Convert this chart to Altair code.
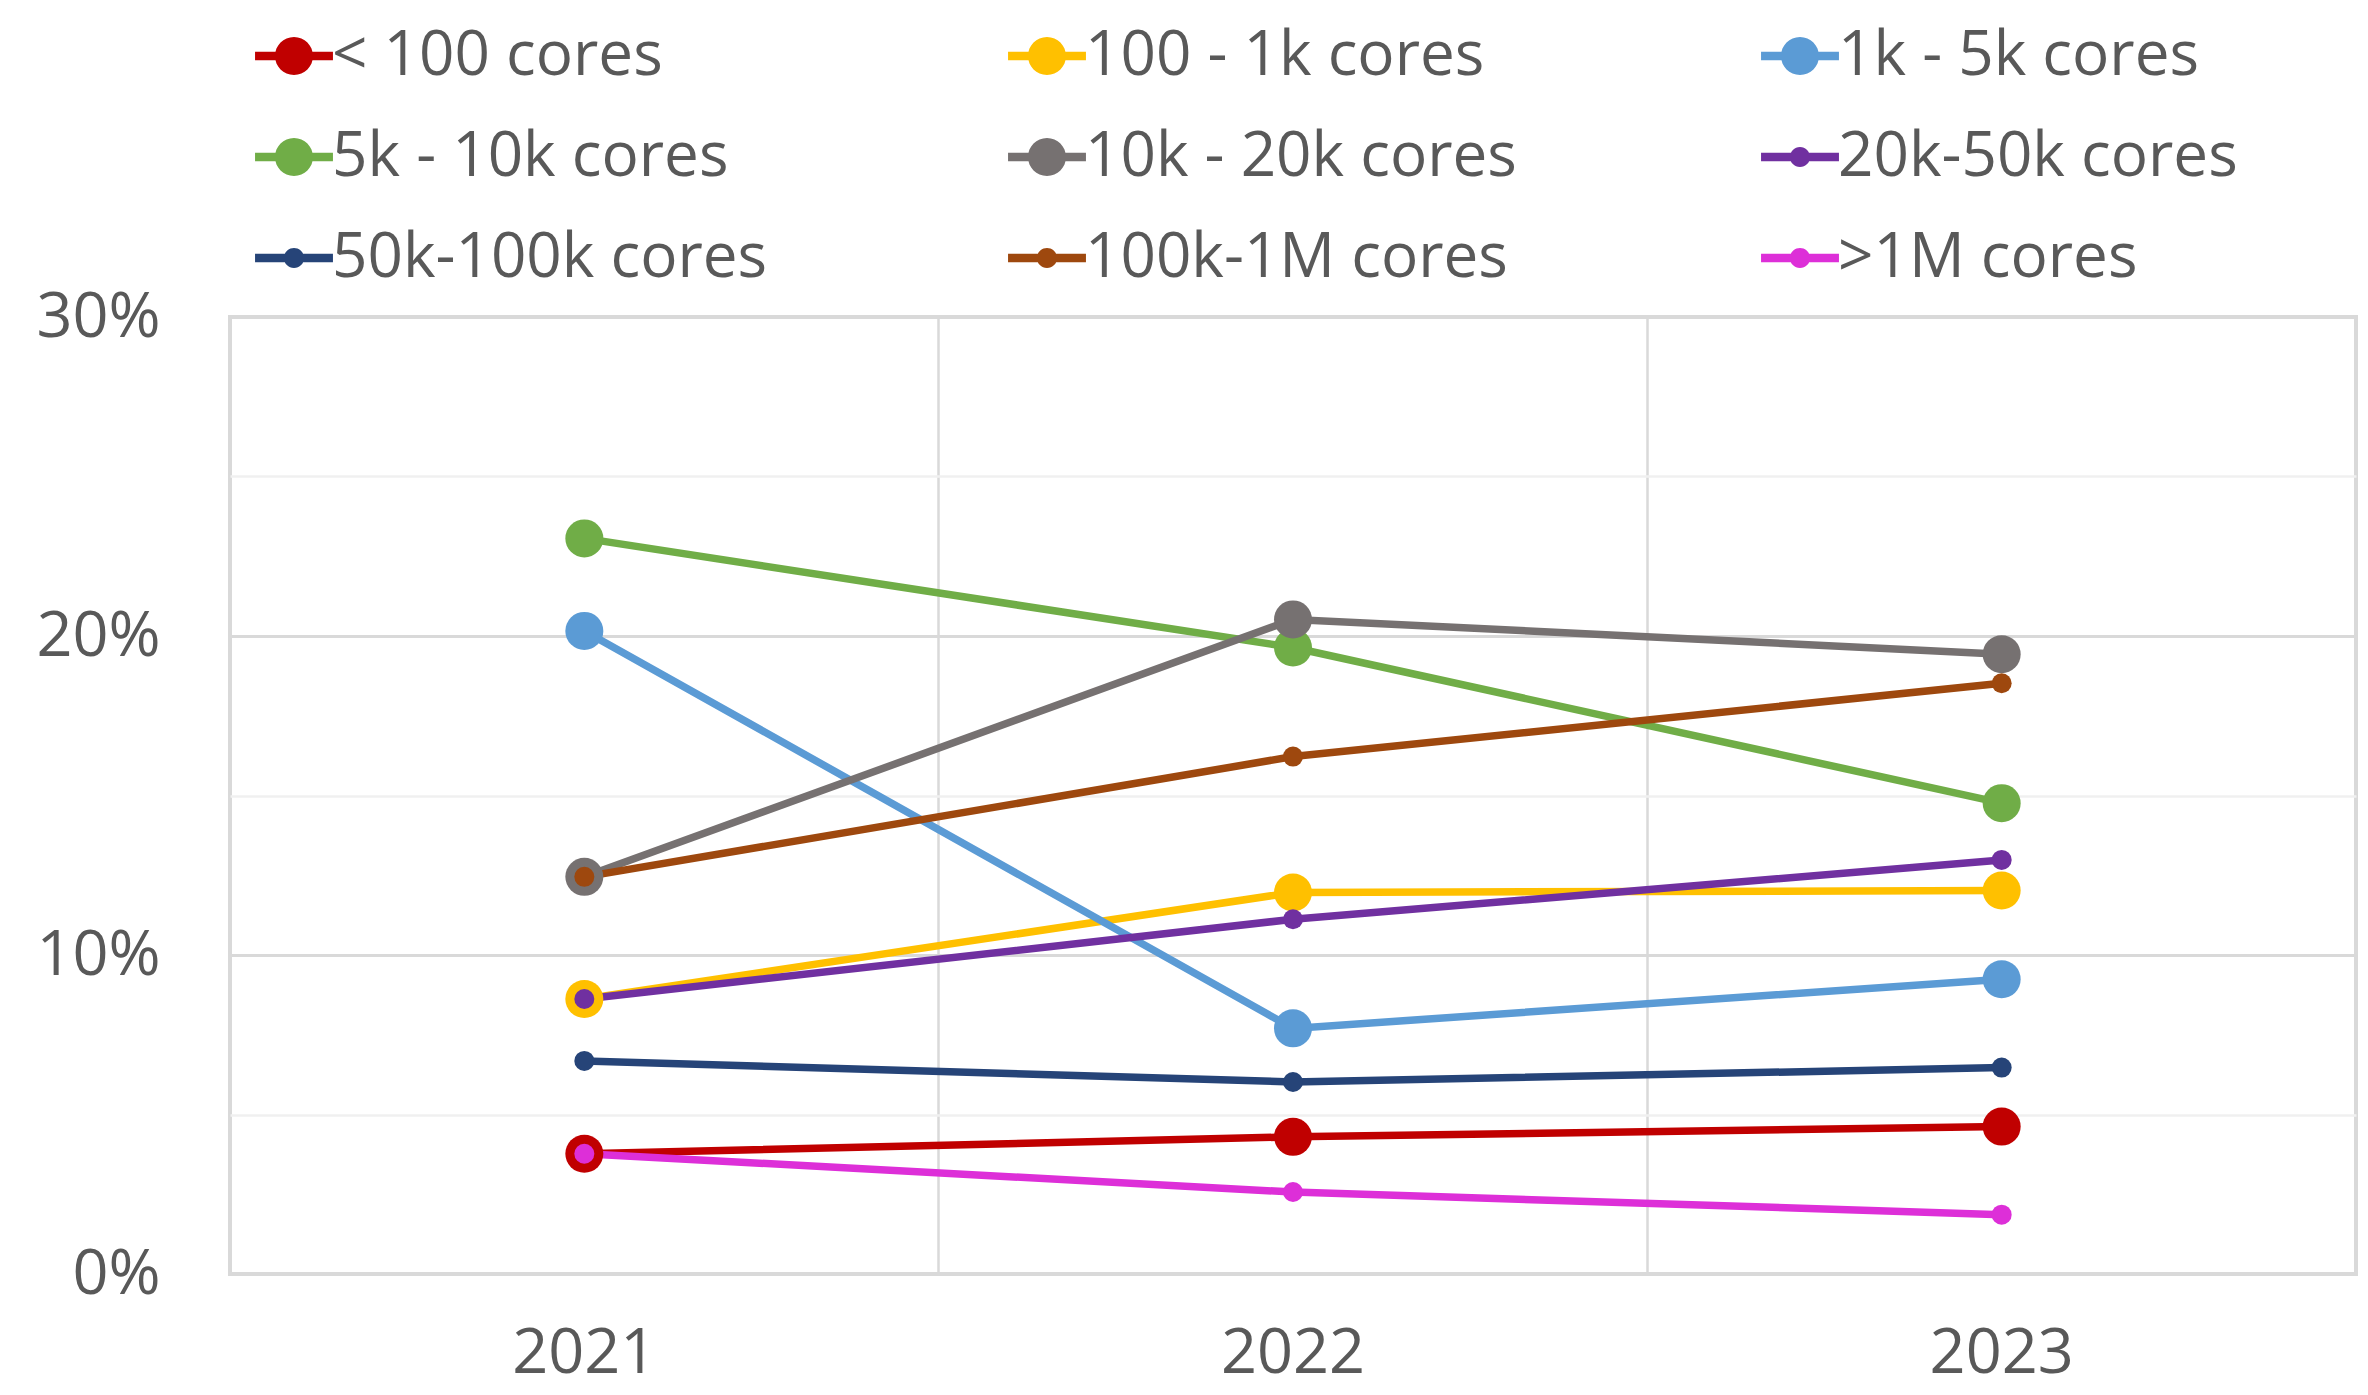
import altair as alt
import pandas as pd

years = ["2021", "2022", "2023"]
series = ["< 100 cores", "100 - 1k cores", "1k - 5k cores", "5k - 10k cores",
          "10k - 20k cores", "20k-50k cores", "50k-100k cores", "100k-1M cores", ">1M cores"]
colors = ["#C00000", "#FFC000", "#5B9BD5", "#70AD47", "#767171",
          "#7030A0", "#264478", "#9E480E", "#DD2FD8"]
big_marker = [True, True, True, True, True, False, False, False, False]

v_lt100 = [3.77, 4.30, 4.62]
v_100_1k = [8.62, 11.96, 12.02]
v_1k_5k = [20.16, 7.70, 9.24]
v_5k_10k = [23.06, 19.64, 14.76]
v_10k_20k = [12.45, 20.52, 19.43]
v_20k_50k = [8.62, 11.12, 12.98]
v_50k_100k = [6.68, 6.02, 6.47]
v_100k_1m = [12.45, 16.22, 18.52]
v_gt1m = [3.77, 2.57, 1.86]

all_values = [v_lt100, v_100_1k, v_1k_5k, v_5k_10k, v_10k_20k,
              v_20k_50k, v_50k_100k, v_100k_1m, v_gt1m]

BIG, SMALL = 1444, 400
rows = []
for name, vals, isbig in zip(series, all_values, big_marker):
    for yr, v in zip(years, vals):
        rows.append({"year": yr, "series": name, "pct": v,
                     "msize": BIG if isbig else SMALL})
df = pd.DataFrame(rows)

# legend symbol paths: horizontal stub + circle (unit r = sqrt(size)/2)
def legend_path(rad):
    return ("M-2.05,-0.22 L2.05,-0.22 L2.05,0.22 L-2.05,0.22 Z "
            f"M-{rad},0 A{rad},{rad} 0 1,1 {rad},0 A{rad},{rad} 0 1,1 -{rad},0 Z")

shape_paths = [legend_path(1) if b else legend_path(0.53) for b in big_marker]

FONT = "Open Sans"
TXT = "#595959"

xscale = alt.Scale(type="band", domain=years, paddingInner=0, paddingOuter=0)
yscale = alt.Scale(domain=[0, 30], nice=False, zero=True)
cscale = alt.Scale(domain=series, range=colors)

x_main = alt.X("year:N", scale=xscale, title=None,
               axis=alt.Axis(grid=False, ticks=False, tickSize=0, domain=False,
                             labelAngle=0, labelFont=FONT, labelFontSize=63,
                             labelColor=TXT, labelBaseline="alphabetic",
                             labelPadding=98))
y_axis = alt.Axis(values=[0, 5, 10, 15, 20, 25, 30],
                  labelExpr="datum.value % 10 === 0 ? datum.value + '%' : ''",
                  grid=True,
                  gridColor=alt.condition("datum.value % 10 === 0",
                                          alt.value("#D9D9D9"), alt.value("#F0F0F0")),
                  gridWidth=alt.condition("datum.value % 10 === 0",
                                          alt.value(3), alt.value(2.5)),
                  ticks=False, tickSize=0, domain=False,
                  labelFont=FONT, labelFontSize=63, labelColor=TXT,
                  labelPadding=70, title=None)

legend = alt.Legend(title=None, orient="none", legendX=33, legendY=-292,
                    direction="horizontal", columns=3, gridAlign="all",
                    columnPadding=240, rowPadding=39, padding=0,
                    labelFont=FONT, labelFontSize=62, labelColor=TXT,
                    labelOffset=7, labelLimit=1000,
                    symbolSize=BIG, symbolStrokeWidth=0, symbolOpacity=1)

legend_layer = alt.Chart(df).transform_filter("datum.pct < 0").mark_point(
    filled=True, size=BIG, opacity=1, strokeWidth=0
).encode(
    x=alt.X("year:N", scale=xscale, title=None,
            axis=alt.Axis(orient="top", bandPosition=0, grid=True, gridColor="#D9D9D9",
                          gridWidth=2.5, labels=False, ticks=False, domain=False)),
    y=alt.Y("pct:Q", scale=yscale, title=None, axis=y_axis),
    color=alt.Color("series:N", scale=cscale, legend=legend),
    shape=alt.Shape("series:N", scale=alt.Scale(domain=series, range=shape_paths),
                    legend=legend),
)

lines = alt.Chart(df).mark_line(strokeWidth=7.5).encode(
    x=x_main,
    y=alt.Y("pct:Q", scale=yscale, title=None, axis=y_axis),
    color=alt.Color("series:N", scale=cscale, legend=None),
)

points = alt.Chart(df).mark_circle(opacity=1).encode(
    x=alt.X("year:N", scale=xscale, title=None, axis=None),
    y=alt.Y("pct:Q", scale=yscale, title=None, axis=y_axis),
    color=alt.Color("series:N", scale=cscale, legend=None),
    size=alt.Size("msize:Q", scale=None, legend=None),
)

chart = alt.layer(legend_layer, lines, points).resolve_axis(x="independent").properties(
    width=2126, height=957,
    autosize=alt.AutoSizeParams(type="none"),
    padding={"left": 222, "top": 309, "right": 4, "bottom": 119},
    background="white",
).configure_view(stroke="#D9D9D9", strokeWidth=4)

chart.save("out.html", embed_options={"renderer": "svg", "actions": False})
